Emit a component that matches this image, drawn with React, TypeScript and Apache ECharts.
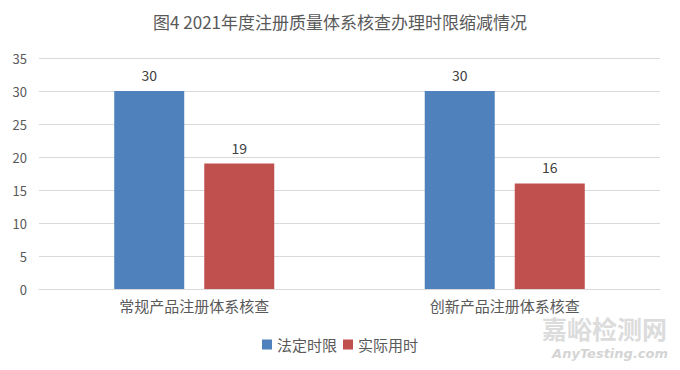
import React, { useEffect, useRef } from "react";
import * as echarts from "echarts";

const title = "图4 2021年度注册质量体系核查办理时限缩减情况";
const categories = ["常规产品注册体系核查", "创新产品注册体系核查"];
const seriesNames = ["法定时限", "实际用时"];
const legalLimit = [30, 30];
const actualTime = [19, 16];
const colors = ["#4F81BD", "#C0504D"];

const FONT = "'Noto Sans CJK SC', 'Noto Sans', sans-serif";

export default function App() {
  const ref = useRef<HTMLDivElement>(null);
  useEffect(() => {
    if (!ref.current) return;
    const chart = echarts.init(ref.current, undefined, { renderer: "svg" });
    chart.setOption({
      animation: false,
      backgroundColor: "#ffffff",
      textStyle: { fontFamily: FONT },
      title: {
        text: title,
        left: "center",
        top: 8,
        textStyle: { fontSize: 17, fontWeight: "normal", color: "#595959", fontFamily: FONT },
      },
      grid: { left: 39, right: 20, top: 58, bottom: 81 },
      legend: {
        data: seriesNames,
        bottom: 13,
        left: "center",
        itemWidth: 10,
        itemHeight: 10,
        itemGap: 6,
        icon: "rect",
        textStyle: { fontSize: 15, color: "#595959", fontFamily: FONT },
      },
      xAxis: {
        type: "category",
        data: categories,
        axisLine: { lineStyle: { color: "#d9d9d9" } },
        axisTick: { show: false },
        axisLabel: { fontSize: 15, color: "#595959", margin: 9, fontFamily: FONT },
      },
      yAxis: {
        type: "value",
        min: 0,
        max: 35,
        interval: 5,
        axisLine: { show: false },
        axisTick: { show: false },
        axisLabel: { fontSize: 13, color: "#595959", margin: 12, fontFamily: FONT },
        splitLine: { lineStyle: { color: "#d9d9d9" } },
      },
      series: [
        {
          name: seriesNames[0],
          type: "bar",
          data: legalLimit,
          barWidth: 70,
          barGap: "28.6%",
          itemStyle: { color: colors[0] },
          label: { show: true, position: "top", distance: 9, fontSize: 14, color: "#404040", fontFamily: FONT },
        },
        {
          name: seriesNames[1],
          type: "bar",
          data: actualTime,
          barWidth: 70,
          itemStyle: { color: colors[1] },
          label: { show: true, position: "top", distance: 9, fontSize: 14, color: "#404040", fontFamily: FONT },
        },
      ],
      graphic: [
        {
          type: "text",
          right: 13,
          top: 314,
          style: {
            text: "嘉峪检测网",
            fontSize: 25,
            lineHeight: 27,
            fontWeight: "bold",
            fill: "#dcdcdc",
            fontFamily: FONT,
          },
        },
        {
          type: "text",
          right: 12,
          top: 346,
          style: {
            text: "AnyTesting.com",
            fontSize: 13,
            lineHeight: 14,
            fontStyle: "italic",
            fontWeight: "bold",
            fill: "#d4d4d4",
            fontFamily: "'DejaVu Sans', sans-serif",
          },
        },
      ],
    });
    return () => chart.dispose();
  }, []);
  return (
    <div
      ref={ref}
      style={{ position: "fixed", left: 0, top: 0, width: 680, height: 370 }}
    />
  );
}
